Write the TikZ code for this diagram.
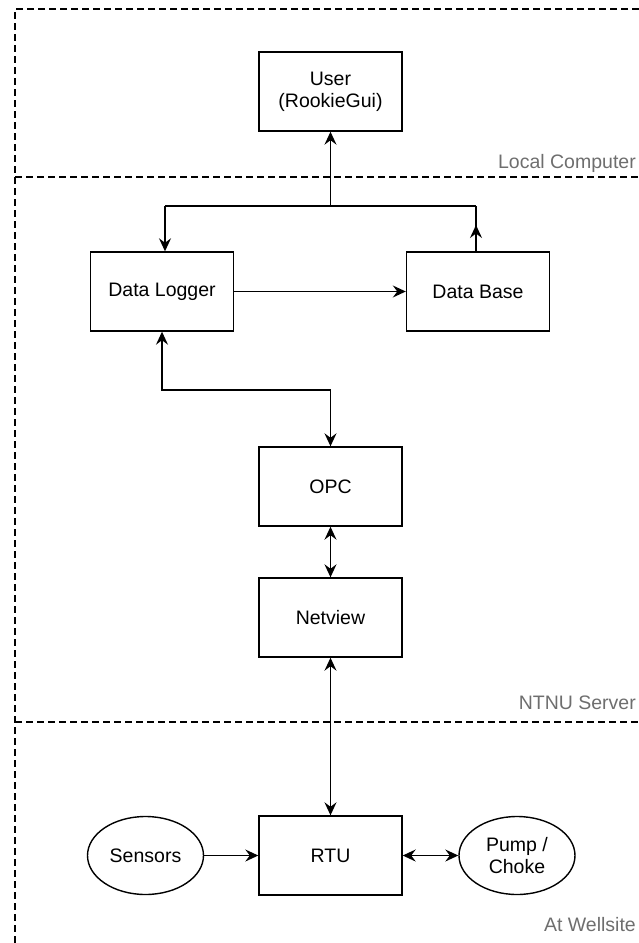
\documentclass[tikz,border=0pt]{standalone}
\usepackage{fontspec}
\setmainfont{Liberation Sans}
\usetikzlibrary{arrows.meta,shapes.geometric}
\definecolor{lblgray}{RGB}{110,110,110}
\begin{document}
\begin{tikzpicture}[x=1pt,y=-1pt,
  >={Stealth[length=13pt,width=12pt,inset=4.5pt]},
  box/.style={draw,line width=1.4pt,minimum width=143pt,minimum height=79pt,inner sep=0pt,align=center,font=\fontsize{19.5}{22}\selectfont},
  oval/.style={draw,ellipse,line width=1.4pt,minimum width=116pt,minimum height=78pt,inner sep=0pt,align=center,font=\fontsize{19.5}{22}\selectfont},
  conn/.style={line width=1.4pt},
  zone/.style={line width=1.3pt,dash pattern=on 7pt off 4pt},
  zlabel/.style={anchor=east,text=lblgray,font=\fontsize{19.5}{21}\selectfont,inner sep=0pt}
]
\useasboundingbox (0,0) rectangle (639,943);
\clip (0,0) rectangle (639,943);

% zones
\draw[zone] (639,9) -- (15,9) -- (15,943);
\draw[zone] (15,177) -- (639,177);
\draw[zone] (15,722) -- (639,722);
\node[zlabel] (lc) at (636,163) {Local Computer};
\node[zlabel] (ns) at (636,703) {NTNU Server};
\node[zlabel] (aw) at (636,925) {At Wellsite};

% nodes
\node[box] (user) at (330.5,91.5) {User\\(RookieGui)};
\node[box] (dl) at (162,291.5) {Data Logger};
\node[box] (db) at (478,291.5) {Data Base};
\node[box] (opc) at (330.5,486.5) {OPC};
\node[box] (nv) at (330.5,617.5) {Netview};
\node[box] (rtu) at (330.5,855.5) {RTU};
\node[oval] (sen) at (145.5,855.5) {Sensors};
\node[oval] (pump) at (517,855.5) {Pump /\\Choke};

% connectors
\coordinate (jm) at (330.5,206);
\coordinate (jl) at (165,206);
\coordinate (jr) at (476,206);
\coordinate (jdb) at (476,252);
\coordinate (jdbt) at (476,225);
\draw[conn,->] (jm) -- (user.south);
\draw[conn] (jr) -- (jl);
\draw[conn,->] (jl) -- (jl |- dl.north);
\draw[conn] (jdb) -- (jr);
\draw[conn,->] (jdb) -- (jdbt);
\draw[conn,->] (dl.east) -- (db.west);
\coordinate (kl) at (162,390);
\coordinate (ko) at (330.5,390);
\draw[conn,<->] (dl.south) -- (kl) -- (ko) -- (opc.north);
\draw[conn,<->] (opc.south) -- (nv.north);
\draw[conn,<->] (nv.south) -- (rtu.north);
\draw[conn,->] (sen.east) -- (rtu.west);
\draw[conn,<->] (rtu.east) -- (pump.west);
\end{tikzpicture}
\end{document}
